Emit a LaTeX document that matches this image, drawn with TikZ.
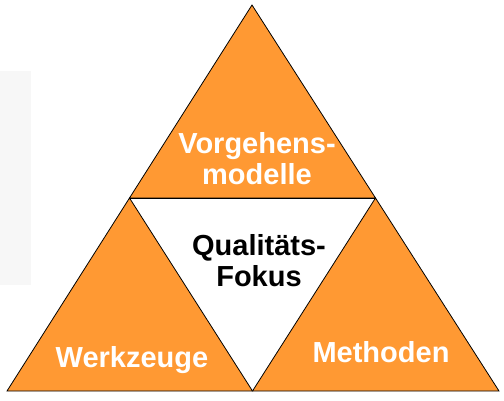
\documentclass[tikz,border=0pt]{standalone}
\usepackage{fontspec}
\setmainfont{Liberation Sans}
\definecolor{triorange}{RGB}{255,153,51}
\definecolor{panelgray}{RGB}{247,247,247}
\begin{document}
\begin{tikzpicture}[x=1pt,y=-1pt,
  tri/.style={fill=triorange,draw=black,line width=0.8pt,line join=miter},
  lbl/.style={font=\fontsize{29}{31}\selectfont\bfseries,inner sep=0pt,align=center},
]
\useasboundingbox (0,0) rectangle (504,400);
\fill[panelgray] (0,71) rectangle (31,285);
% vertices
\coordinate (top) at (252,5);
\coordinate (bl) at (7,391);
\coordinate (br) at (499,391);
\coordinate (bm) at (252.5,391);
\coordinate (ml) at (129.5,198);
\coordinate (mr) at (375.5,198);
% triangles
\draw[tri] (top) -- (mr) -- (ml) -- cycle;
\draw[tri] (ml) -- (bm) -- (bl) -- cycle;
\draw[tri] (mr) -- (br) -- (bm) -- cycle;
\draw[black,line width=0.8pt] (ml) -- (mr);
% labels
\node[lbl,text=white] (vm) at (257,159) {Vorgehens-\\modelle};
\node[lbl,text=black] (qf) at (259,260.5) {Qualitäts-\\Fokus};
\node[lbl,text=white,anchor=base] (wz) at (132,367) {Werkzeuge};
\node[lbl,text=white,anchor=base] (me) at (381,362) {Methoden};
\end{tikzpicture}
\end{document}
